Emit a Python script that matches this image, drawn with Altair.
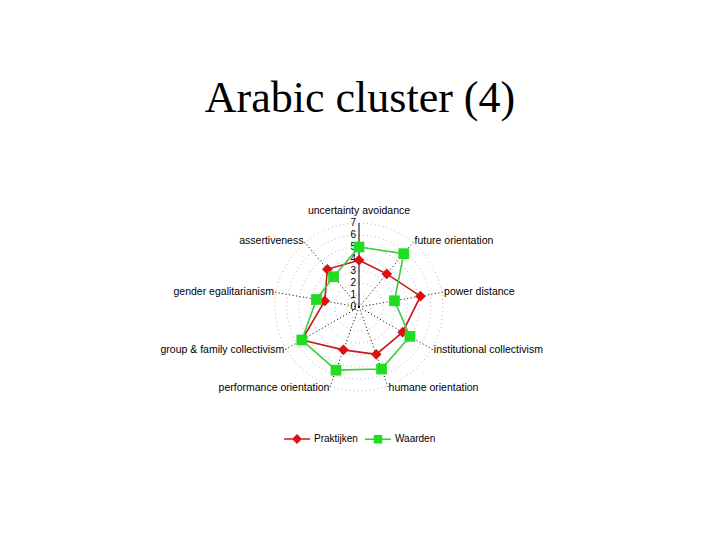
import math
import altair as alt
import pandas as pd

categories = ["uncertainty avoidance", "future orientation", "power distance",
              "institutional collectivism", "humane orientation", "performance orientation",
              "group & family collectivism", "gender egalitarianism", "assertiveness"]
praktijken = [3.9, 3.6, 5.2, 4.2, 4.2, 3.8, 5.5, 2.9, 4.1]
waarden = [5.0, 5.8, 3.0, 4.9, 5.5, 5.6, 5.5, 3.6, 3.3]
tick_values = [0, 1, 2, 3, 4, 5, 6, 7]
series_names = ["Praktijken", "Waarden"]
series_colors = ["#E01010", "#20DD20"]
line_colors = ["#C81818", "#3CCB3C"]

N = len(categories)
RMAX = 7
UNIT = 12.0
W, H = 704, 524
CX, CY = 351, 299
xdom = [-CX / UNIT, (W - CX) / UNIT]
ydom = [-(H - CY) / UNIT, CY / UNIT]


def ang(i):
    return 2 * math.pi * i / N


rows = []
for name, vals in zip(series_names, [praktijken, waarden]):
    for k in range(N + 1):
        i = k % N
        r = vals[i]
        rows.append({"series": name, "cat": categories[i], "order": k,
                     "x": r * math.sin(ang(i)), "y": r * math.cos(ang(i)), "v": r})
sdf = pd.DataFrame(rows)

grid_rows = []
SEG = 90
for ring in range(1, RMAX + 1):
    for k in range(SEG + 1):
        a = 2 * math.pi * k / SEG
        grid_rows.append({"ring": ring, "k": k, "x": ring * math.sin(a), "y": ring * math.cos(a)})
gdf = pd.DataFrame(grid_rows)

spoke_rows = []
for i in range(1, N):
    spoke_rows.append({"x": 0, "y": 0, "x2": 7.3 * math.sin(ang(i)), "y2": 7.3 * math.cos(ang(i))})
spdf = pd.DataFrame(spoke_rows)

lab_rows = []
for i, c in enumerate(categories):
    s = math.sin(ang(i))
    rr = 7.6 if i == 0 else 7.2
    side = "center" if abs(s) < 0.1 else ("left" if s > 0 else "right")
    lab_rows.append({"label": c, "x": rr * s, "y": rr * math.cos(ang(i)), "side": side})
ldf = pd.DataFrame(lab_rows)

tdf = pd.DataFrame({"t": tick_values, "x": [0] * len(tick_values), "y": tick_values})
adf = pd.DataFrame({"x": [0], "y": [0], "x2": [0], "y2": [RMAX]})

X = alt.X("x:Q", scale=alt.Scale(domain=xdom, nice=False, zero=False), axis=None)
Y = alt.Y("y:Q", scale=alt.Scale(domain=ydom, nice=False, zero=False), axis=None)

grid = alt.Chart(gdf).mark_line(color="#B8B8B8", strokeDash=[1, 3], strokeWidth=1).encode(
    x=X, y=Y, detail="ring:N", order="k:Q")

spokes = alt.Chart(spdf).mark_rule(color="#000000", strokeDash=[1, 2.5], strokeWidth=1).encode(
    x=X, y=Y, x2="x2:Q", y2="y2:Q")

vaxis = alt.Chart(adf).mark_rule(color="#000000", strokeWidth=1).encode(
    x=X, y=Y, x2="x2:Q", y2="y2:Q")

ticks = alt.Chart(tdf).mark_text(align="right", baseline="middle", dx=-3, fontSize=10,
                                 font="Liberation Sans", color="#000000").encode(
    x=X, y=Y, text="t:Q")

label_layers = []
for side, base in [("center", "bottom"), ("left", "middle"), ("right", "middle")]:
    label_layers.append(
        alt.Chart(ldf).transform_filter(alt.datum.side == side).mark_text(
            align=side, baseline=base, fontSize=10.5, font="Liberation Sans", color="#000000"
        ).encode(x=X, y=Y, text="label:N"))

lines = []
points = []
for name, col, lcol, shape in zip(series_names, series_colors, line_colors, ["diamond", "square"]):
    base = alt.Chart(sdf).transform_filter(alt.datum.series == name)
    lines.append(base.mark_line(color=lcol, strokeWidth=1.6).encode(x=X, y=Y, order="order:Q"))
    points.append(base.transform_filter(alt.datum.order < N).mark_point(
        shape=shape, filled=True, color=col, size=115, opacity=1).encode(x=X, y=Y))

legend_paths = ["M-1,0L1,0M0,-0.3L0.3,0L0,0.3L-0.3,0Z",
                "M-1,0L1,0M-0.27,-0.27L0.27,-0.27L0.27,0.27L-0.27,0.27Z"]
legend_layer = alt.Chart(sdf).mark_point(filled=True, size=676, clip=True, strokeWidth=1.5,
                                         opacity=1).encode(
    x=alt.value(-200), y=alt.value(-200),
    color=alt.Color("series:N", scale=alt.Scale(domain=series_names, range=series_colors),
                    legend=alt.Legend(title=None, orient="none", legendX=275, legendY=417,
                                      direction="horizontal", padding=0, columnPadding=4,
                                      symbolSize=676, symbolStrokeWidth=1.5, labelFontSize=10,
                                      labelFont="Liberation Sans", labelColor="#000000",
                                      labelOffset=3, symbolOpacity=1, symbolFillColor=None)),
    stroke=alt.Stroke("series:N", scale=alt.Scale(domain=series_names, range=series_colors)),
    shape=alt.Shape("series:N", scale=alt.Scale(domain=series_names, range=legend_paths)),
)

chart = alt.layer(grid, spokes, vaxis, ticks, *label_layers, *lines, *points, legend_layer).properties(
    width=W, height=H, autosize=alt.AutoSizeParams(type="none"), padding=0,
    background="#FFFFFF",
    title=alt.TitleParams("Arabic cluster (4)", font="Liberation Serif", fontSize=44,
                          fontWeight="normal", color="#000000", anchor="middle", frame="group",
                          orient="top", offset=0, baseline="alphabetic", dy=148)
).configure_view(stroke=None)

chart.save("out.html", embed_options={"renderer": "svg", "actions": False})
